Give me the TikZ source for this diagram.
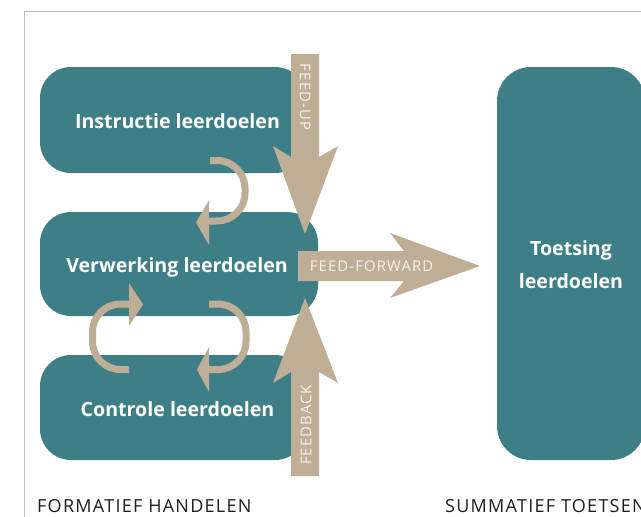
\documentclass[tikz,border=0pt]{standalone}
\usepackage{fontspec}
\setmainfont{Open Sans}
\newfontfamily\capfont[LetterSpace=7]{Open Sans}
\newfontfamily\arrfont[LetterSpace=8]{Open Sans}
\definecolor{tealbox}{HTML}{3E7F87}
\definecolor{sand}{HTML}{BFAE96}
\definecolor{framec}{HTML}{C8BCAA}
\definecolor{lighttext}{HTML}{F7F3EE}
\definecolor{darktext}{HTML}{1E1E1E}
\begin{document}
\begin{tikzpicture}[x=1pt,y=-1pt,
  box/.style={fill=tealbox, rounded corners=31pt},
  boxtext/.style={text=white, font=\fontsize{19.6}{24}\selectfont\bfseries, inner sep=0pt},
  bigarrow/.style={fill=sand},
  arrowtext/.style={text=lighttext, font=\arrfont\fontsize{14.8}{16}\selectfont, inner sep=0pt},
  loopline/.style={draw=sand, line width=7pt, rounded corners=28pt},
  loophead/.style={fill=sand},
  caption/.style={text=darktext, font=\capfont\fontsize{18}{20}\selectfont, inner sep=0pt}]
\useasboundingbox (0,0) rectangle (641,517);
\clip (0,0) rectangle (641,517);
% frame
\draw[framec, line width=1pt] (24,517) -- (24,11) -- (641,11);
% boxes
\fill[box] (40,67) rectangle (306,173);
\fill[box] (40,212) rectangle (318,316);
\fill[box] (40,355) rectangle (306,460);
\fill[box, rounded corners=34pt] (497,67) rectangle (645,460);
% box texts
\node[boxtext, anchor=base] (instr) at (177.5,128) {Instructie leerdoelen};
\node[boxtext, anchor=base] (verw) at (177,272) {Verwerking leerdoelen};
\node[boxtext, anchor=base] (contr) at (177.5,416) {Controle leerdoelen};
\node[boxtext, anchor=base, align=center] (toets) at (571,255) {Toetsing};
\node[boxtext, anchor=base] (toets2) at (571,288) {leerdoelen};
% loop arrows
\draw[loopline] (210,160.5) -- (245,160.5) -- (245,221) -- (209,221);
\fill[loophead] (209,200) -- (196,222.5) -- (209,245) -- cycle;
\draw[loopline] (129,369.5) -- (92.5,369.5) -- (92.5,304) -- (129,304);
\fill[loophead] (129,283) -- (143,304.5) -- (129,326) -- cycle;
\draw[loopline] (209,304) -- (246,304) -- (246,369.5) -- (209,369.5);
\fill[loophead] (209,347) -- (197,369.5) -- (209,392) -- cycle;
% big arrows
\fill[bigarrow] (291,54) -- (319,54) -- (319,157) -- (338,146) -- (305,234) -- (273,146) -- (291,157) -- cycle;
\fill[bigarrow] (291,476) -- (319,476) -- (319,372) -- (338,383) -- (305,298) -- (273,383) -- (291,372) -- cycle;
\fill[bigarrow] (298,251) -- (404,251) -- (390,233) -- (480,266) -- (390,298) -- (404,281) -- (298,281) -- cycle;
\node[arrowtext, rotate=-90] (fu) at (305,97) {FEED-UP};
\node[arrowtext, rotate=90] (fb) at (306,425) {FEEDBACK};
\node[arrowtext] (ff) at (371.5,266.5) {FEED-FORWARD};
% captions
\node[caption, anchor=base west] (form) at (37,512) {FORMATIEF HANDELEN};
\node[caption, anchor=base west] (summ) at (445,512) {SUMMATIEF TOETSEN};
\end{tikzpicture}
\end{document}
